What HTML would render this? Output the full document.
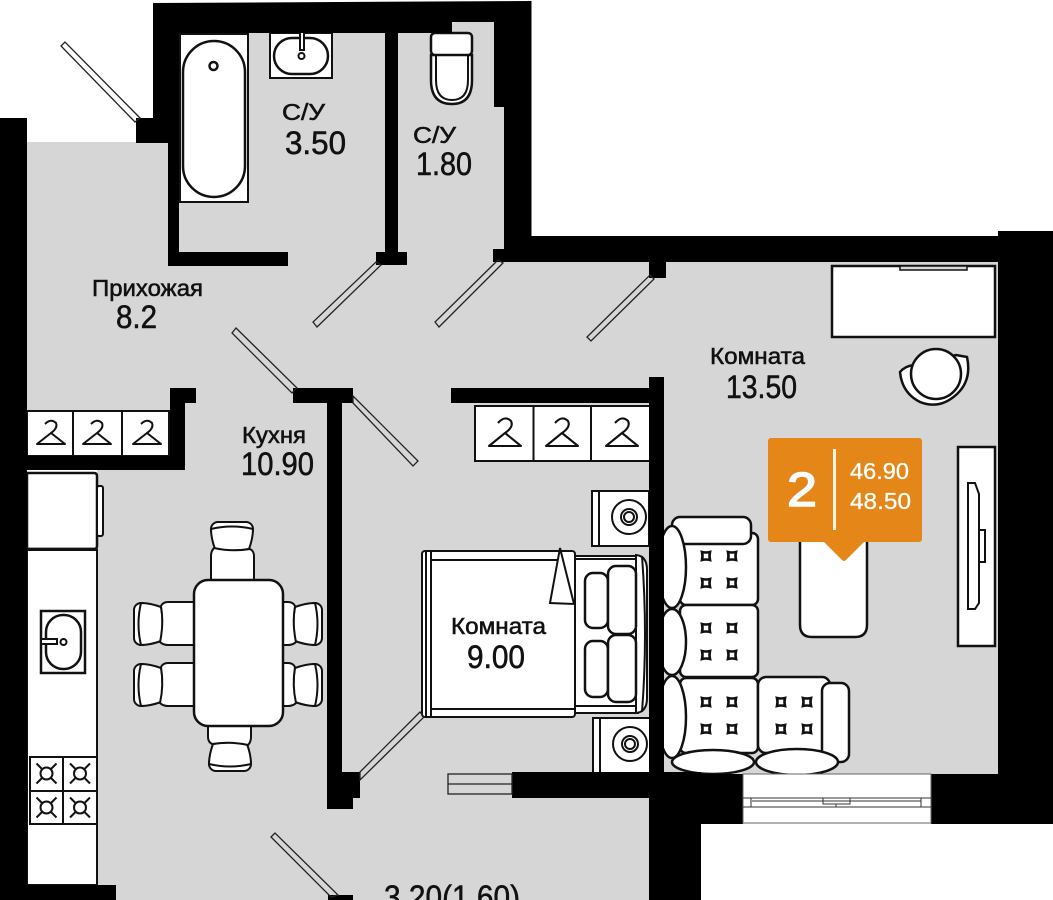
<!DOCTYPE html>
<html><head><meta charset="utf-8"><style>
html,body{margin:0;padding:0;background:#fff}
svg{display:block;position:absolute;left:0;top:0}
text{font-family:"Liberation Sans","DejaVu Sans",sans-serif;fill:#111;stroke:#111;stroke-width:.55}
.f{fill:#fff;stroke:#111;stroke-width:2.5}
.t{fill:#fff;stroke:#111;stroke-width:2}
.d{fill:none;stroke:#222;stroke-width:1.3}
</style></head><body>
<svg width="1053" height="900" viewBox="0 0 1053 900" xmlns="http://www.w3.org/2000/svg">
<defs>
<g id="chair">
<rect class="t" x="0" y="1" width="15" height="42" rx="7"/>
<path class="t" d="M7 1Q16 1 27 5Q30 22 27 39Q16 43 7 43Q2 22 7 1Z"/>
<path class="t" d="M27 4Q29 0 34 0H62V43H34Q29 43 26 40Q30 22 27 4Z"/>
</g>
<g id="h1"><path d="M-6 -20Q0 -26 5 -21Q7 -16 0 -11L-14 0H14L0 -11" fill="none" stroke="#111" stroke-width="2" stroke-linejoin="round"/></g>
<g id="h2"><path d="M-7 -23Q0 -31 6 -25Q9 -19 0 -13L-16 0H16L0 -13" fill="none" stroke="#111" stroke-width="2.1" stroke-linejoin="round"/></g>
<g id="tuft"><path d="M-4 -4Q0 -3 4 -4Q3 0 4 4Q0 3 -4 4Q-3 0 -4 -4Z" fill="#fff" stroke="#111" stroke-width="2.6"/></g>
<g id="four"><use href="#tuft" x="0" y="0"/><use href="#tuft" x="26" y="0"/><use href="#tuft" x="0" y="27"/><use href="#tuft" x="26" y="27"/></g>
<g id="burner"><circle cx="0" cy="0" r="6" fill="none" stroke="#111" stroke-width="2"/><path d="M-10 -10L-4 -4M10 -10L4 -4M-10 10L-4 4M10 10L4 4" stroke="#111" stroke-width="2"/></g>
</defs>
<rect width="1053" height="900" fill="#fff"/>
<!-- floor -->
<path fill="#d6d6d6" d="M27 142H170V33H452V22H510V262H998V774H664V900H97V470H27Z"/>

<!-- bath -->
<rect class="t" x="180" y="34" width="68" height="168"/>
<rect class="f" x="183" y="41" width="62" height="156" rx="31"/>
<circle class="f" cx="213.500" cy="66" r="4"/>
<rect class="t" x="270" y="33" width="62" height="45"/>
<rect class="f" x="274" y="38" width="54" height="36" rx="18"/>
<path d="M300 33V50H304V33" class="t"/><circle class="t" cx="301.500" cy="56" r="3"/>
<!-- toilet -->
<path class="f" d="M431 55V80Q431 104 452 104Q472 104 472 80V55Z"/>
<path class="t" d="M436 55V80Q436 100 452 100Q468 100 468 80V55"/>
<rect class="f" x="431" y="33" width="41" height="22" rx="4"/>

<!-- closets -->
<rect class="t" x="27" y="411" width="142" height="45"/>
<path d="M73 411V456M122 411V456" stroke="#111" stroke-width="2"/>
<use href="#h1" x="51" y="444"/><use href="#h1" x="97" y="444"/><use href="#h1" x="147" y="444"/>
<rect class="t" x="475" y="406" width="175" height="55"/>
<path d="M533.500 406V461M591 406V461" stroke="#111" stroke-width="2"/>
<use href="#h2" x="505" y="446"/><use href="#h2" x="562" y="446"/><use href="#h2" x="622" y="446"/>

<!-- kitchen -->
<path class="f" d="M27 473H94Q97 473 97 476V546Q97 549 94 549H27Z"/>
<rect class="t" x="97" y="486" width="6" height="50" rx="2"/>
<rect class="t" x="27" y="550" width="70" height="335"/>
<path class="f" fill="none" d="M27 549H97"/>
<rect class="f" x="41" y="611" width="44" height="62" stroke-width="2"/>
<rect class="f" x="46" y="615" width="35" height="54" rx="17"/>
<rect class="t" x="41" y="639" width="16" height="5"/><circle class="t" cx="63.500" cy="642" r="3"/>
<rect class="t" x="30" y="757" width="67" height="67"/>
<path d="M63 757V824M30 791H97" stroke="#111" stroke-width="2"/>
<use href="#burner" x="46.500" y="773.500"/><use href="#burner" x="80" y="773.500"/><use href="#burner" x="46.500" y="807.500"/><use href="#burner" x="80" y="807.500"/>

<!-- dining -->
<use href="#chair" transform="translate(134,602)"/>
<use href="#chair" transform="translate(134,663)"/>
<use href="#chair" transform="translate(322,602) scale(-1,1)"/>
<use href="#chair" transform="translate(322,663) scale(-1,1)"/>
<use href="#chair" transform="translate(254,522) rotate(90)"/>
<use href="#chair" transform="translate(208,771) rotate(-90)"/>
<rect class="f" x="194" y="580" width="89" height="146" rx="14"/>

<!-- bed -->
<rect class="t" x="575" y="556" width="63" height="157"/>
<path class="t" d="M575 559H636M575 706H636"/>
<path class="t" d="M636 555Q647 556 647 570V698Q647 712 636 713Z"/>
<path class="t" d="M642 556Q648 635 642 712"/>
<rect class="f" x="585" y="573" width="23" height="55" rx="8"/>
<rect class="f" x="608" y="566" width="28" height="68" rx="8"/>
<rect class="f" x="585" y="641" width="23" height="56" rx="8"/>
<rect class="f" x="608" y="635" width="28" height="67" rx="8"/>
<rect class="t" x="422" y="551" width="153" height="166" rx="3"/>
<path d="M426 551V717M431 551V717M431 560H560M431 709H575" stroke="#111" stroke-width="2" fill="none"/>
<path class="t" d="M560 548L574 604L550 603Z"/>
<!-- bedside -->
<rect class="t" x="592" y="491" width="57" height="55"/><path d="M599 491V546" stroke="#111" stroke-width="2"/>
<circle class="t" cx="629" cy="517" r="17"/><circle class="t" cx="629" cy="517" r="8"/><circle class="t" cx="629" cy="517" r="5"/>
<rect class="t" x="593" y="718" width="57" height="55"/><path d="M600 718V773" stroke="#111" stroke-width="2"/>
<circle class="t" cx="630" cy="744" r="17"/><circle class="t" cx="630" cy="744" r="8"/><circle class="t" cx="630" cy="744" r="5"/>

<!-- sofa -->
<rect class="f" x="680" y="533" width="78" height="72" rx="6"/>
<rect class="f" x="672" y="517" width="79" height="27" rx="8"/>
<rect class="f" x="680" y="605" width="78" height="72" rx="6"/>
<rect class="f" x="680" y="678" width="78" height="75" rx="6"/>
<rect class="f" x="758" y="677" width="72" height="76" rx="8"/>
<rect class="f" x="822" y="683" width="27" height="79" rx="8"/>
<ellipse class="f" cx="672" cy="567" rx="14" ry="41"/>
<ellipse class="f" cx="672" cy="642" rx="14" ry="33"/>
<ellipse class="f" cx="672" cy="717" rx="14" ry="41"/>
<ellipse class="f" cx="713" cy="762" rx="41" ry="12"/>
<ellipse class="f" cx="797" cy="762" rx="41" ry="13"/>
<use href="#four" x="706" y="556"/><use href="#four" x="706" y="628"/><use href="#four" x="706" y="702"/><use href="#four" x="781" y="702"/>

<!-- desk + chair -->
<rect class="f" x="832" y="266" width="163" height="71" stroke-width="2"/>
<rect class="t" x="900" y="266" width="67" height="4" style="fill:#d6d6d6;stroke-width:1.5"/>
<path class="f" d="M900 372Q905 366 914 365L936 360L956 355L967 357Q972 380 957 394Q940 410 920 402Q902 393 900 372Z"/>
<circle class="f" cx="936" cy="374" r="25"/>
<!-- pouf -->
<path class="f" d="M800 530V625Q800 637 812 637H855Q867 637 867 625V530Z"/>
<!-- tv -->
<rect class="f" x="958" y="447" width="37" height="199"/>
<path class="t" d="M968 483H975L979 494V603L975 609H968Z"/>
<rect class="t" x="979" y="530" width="6" height="32"/>

<!-- walls -->
<g fill="#000">
<path d="M153 3L531.500 1V236H998V231H1053V824H931V774H998V262H666V278H649V262H504V249H493V262H504V107H494V22H452V33H398V252H407V265H376V252H385V33H179V252H288V266H168V143H136V118H153Z" fill-rule="evenodd"/>
<rect x="0" y="118" width="27" height="782"/>
<rect x="0" y="885" width="116" height="15"/>
<rect x="170" y="388" width="26" height="15"/>
<rect x="170" y="388" width="15" height="82"/>
<rect x="27" y="456" width="158" height="14"/>
<rect x="293" y="388" width="60" height="15"/>
<rect x="327" y="388" width="15" height="421"/>
<rect x="327" y="772" width="26" height="37"/>
<rect x="342" y="772" width="18" height="26"/>
<rect x="451" y="388" width="198" height="15"/>
<rect x="649" y="377" width="15" height="400"/>
<rect x="512" y="772" width="137" height="26"/>
<rect x="649" y="772" width="52" height="128"/>
<rect x="649" y="774" width="94" height="50"/>
<rect x="328" y="895" width="25" height="5"/>
</g>

<!-- window -->
<rect x="743" y="774" width="188" height="49" fill="#fff" stroke="#666" stroke-width="1"/>
<path d="M743 798H931M743 807H931M751 798V807M921 798V807M752 801H921M823 798V804H850V798M836 804V807" fill="none" stroke="#333" stroke-width="1"/>

<!-- doors -->
<g class="d">
<polygon points="61,46 65,42 140,118 135,122"/>
<polygon points="313,322 317,327 381,265 376,262"/>
<polygon points="435,322 439,327 503,263 498,260"/>
<polygon points="232,333 236,328 297,388 292,393"/>
<polygon points="353,403 413,466 418,461 353,396"/>
<polygon points="587,337 591,341 654,279 650,275"/>
<polygon points="360,772 420,712 424,717 360,780"/>
<polygon points="271,837 275,833 338,895 331,897"/>
<rect x="448" y="774" width="64" height="20"/>
<path d="M448 784H512"/>
</g>

<!-- labels -->
<text x="282" y="120" font-size="23" textLength="43" lengthAdjust="spacingAndGlyphs">С/У</text>
<text x="285" y="154" font-size="32" textLength="61" lengthAdjust="spacingAndGlyphs">3.50</text>
<text x="413" y="143" font-size="23" textLength="43" lengthAdjust="spacingAndGlyphs">С/У</text>
<text x="416" y="175" font-size="32" textLength="56" lengthAdjust="spacingAndGlyphs">1.80</text>
<text x="92" y="296" font-size="23" textLength="111" lengthAdjust="spacingAndGlyphs">Прихожая</text>
<text x="116" y="328" font-size="32" textLength="41" lengthAdjust="spacingAndGlyphs">8.2</text>
<text x="242" y="443" font-size="23" textLength="64" lengthAdjust="spacingAndGlyphs">Кухня</text>
<text x="241" y="475" font-size="32" textLength="73" lengthAdjust="spacingAndGlyphs">10.90</text>
<text x="710" y="364" font-size="23" textLength="95" lengthAdjust="spacingAndGlyphs">Комната</text>
<text x="726" y="398" font-size="32" textLength="71" lengthAdjust="spacingAndGlyphs">13.50</text>
<text x="451" y="634" font-size="23" textLength="95" lengthAdjust="spacingAndGlyphs">Комната</text>
<text x="467" y="668" font-size="32" textLength="58" lengthAdjust="spacingAndGlyphs">9.00</text>
<text x="384" y="908" font-size="32" textLength="136" lengthAdjust="spacingAndGlyphs">3.20(1.60)</text>

<!-- badge -->
<rect x="768" y="438" width="154" height="104" rx="3" fill="#e58618"/>
<path d="M823 541H865L846 560Q844 562 842 560Z" fill="#e58618"/>
<rect x="833" y="449" width="3" height="81" fill="#fff4e0"/>
<text x="787" y="506" font-size="48" textLength="30" lengthAdjust="spacingAndGlyphs" style="fill:#fff;stroke:#fff;stroke-width:1.5">2</text>
<text x="850" y="479" font-size="23" textLength="59" lengthAdjust="spacingAndGlyphs" style="fill:#fff;stroke:#fff;stroke-width:.3">46.90</text>
<text x="850" y="509" font-size="23" textLength="61" lengthAdjust="spacingAndGlyphs" style="fill:#fff;stroke:#fff;stroke-width:.3">48.50</text>
</svg>
</body></html>
